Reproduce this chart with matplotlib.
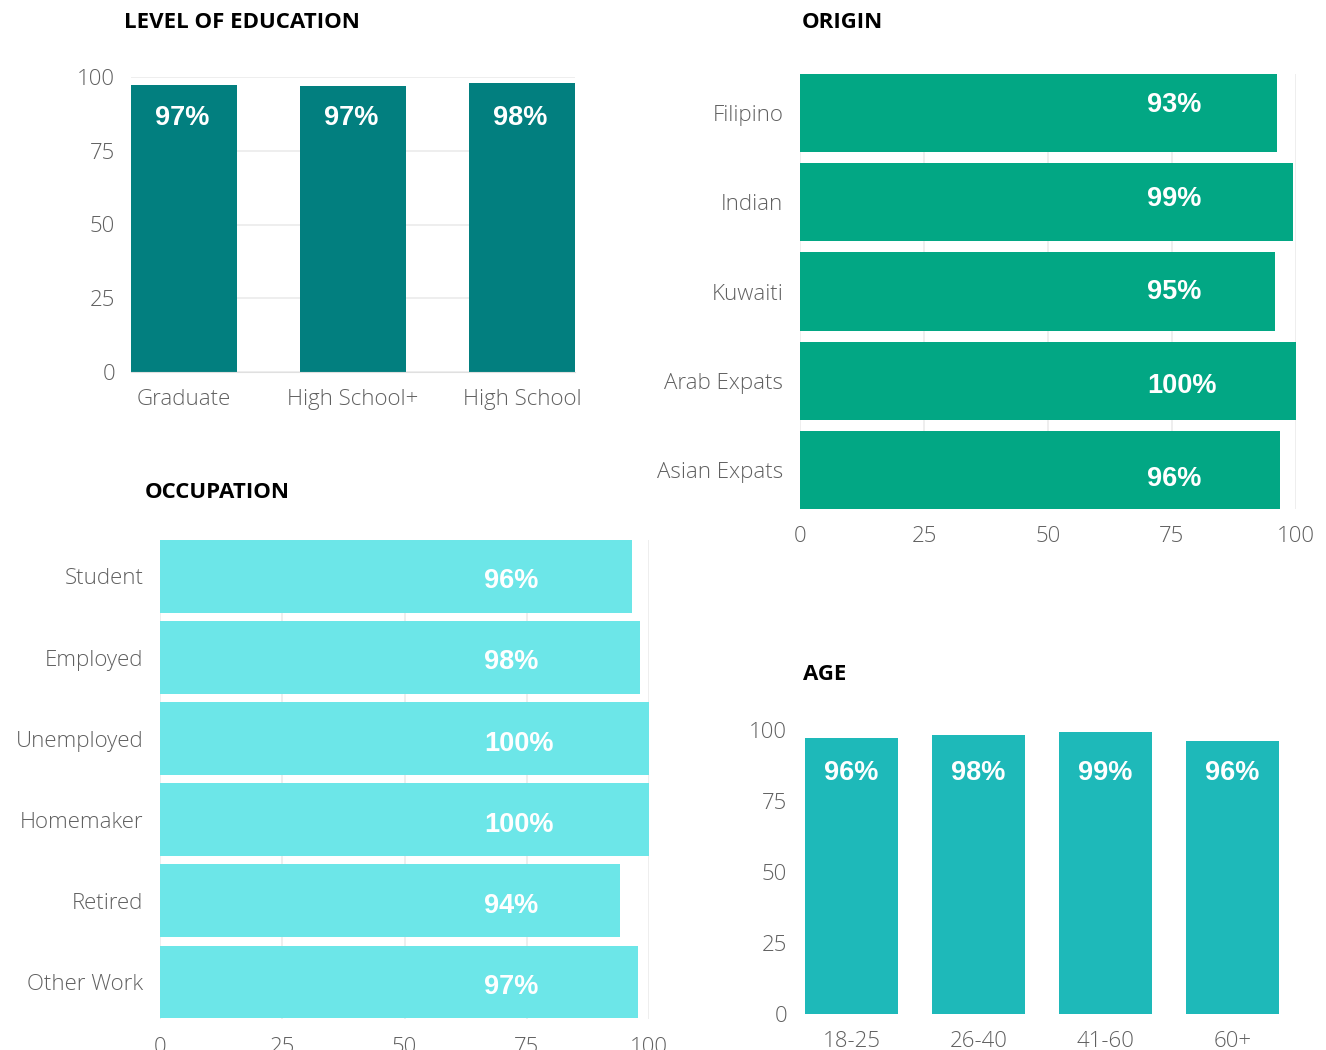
import matplotlib
matplotlib.use("Agg")
import matplotlib.pyplot as plt

# ---------------- data ----------------
edu_categories = ["Graduate", "High School+", "High School"]
edu_values = [97.3, 96.9, 98.0]
edu_labels = ["97%", "97%", "98%"]

origin_categories = ["Filipino", "Indian", "Kuwaiti", "Arab Expats", "Asian Expats"]
origin_values = [96.2, 99.4, 95.8, 100.0, 96.8]
origin_labels = ["93%", "99%", "95%", "100%", "96%"]

occ_categories = ["Student", "Employed", "Unemployed", "Homemaker", "Retired", "Other Work"]
occ_values = [96.5, 98.2, 100.0, 100.0, 94.1, 97.8]
occ_labels = ["96%", "98%", "100%", "100%", "94%", "97%"]

age_categories = ["18-25", "26-40", "41-60", "60+"]
age_values = [97.2, 98.2, 99.3, 96.1]
age_labels = ["96%", "98%", "99%", "96%"]

ticks = [0, 25, 50, 75, 100]

# ---------------- style ----------------
W, H = 1326, 1050
C_EDU = "#027F7F"
C_ORI = "#02A784"
C_OCC = "#6CE6E8"
C_AGE = "#1EB9B9"
GRID = "#EBEBEB"
TICK_C = "#606060"
TICK_FONT = dict(family="Open Sans", weight="light", size=16, color=TICK_C)
LABEL_FONT = dict(family="Liberation Sans", weight="bold", size=19.5, color="white")
TITLE_FONT = dict(family="Open Sans", weight="bold", size=16, color="black")

fig = plt.figure(figsize=(W / 100, H / 100), dpi=100)
fig.patch.set_facecolor("white")


def add_ax(left, right, top, bottom):
    return fig.add_axes([left / W, 1 - bottom / H, (right - left) / W, (bottom - top) / H])


def style(ax):
    for s in ax.spines.values():
        s.set_visible(False)
    ax.tick_params(length=0)
    for lab in ax.get_xticklabels() + ax.get_yticklabels():
        lab.set_fontfamily(TICK_FONT["family"])
        lab.set_fontweight(TICK_FONT["weight"])
        lab.set_fontsize(TICK_FONT["size"])
        lab.set_color(TICK_C)


def title(x, y, s):
    fig.text(x / W, 1 - y / H, s, ha="left", va="center", **TITLE_FONT)


# ---------- Level of education ----------
ax = add_ax(131, 575, 77, 372)
xs = range(len(edu_categories))
ax.bar(xs, edu_values, width=0.63, color=C_EDU, zorder=2)
ax.set_xlim(-0.315, 2.315)
ax.set_ylim(0, 100)
ax.set_yticks(ticks)
ax.set_xticks(list(xs))
ax.set_xticklabels(edu_categories)
ax.yaxis.grid(True, color=GRID, lw=1.2, zorder=0)
ax.set_axisbelow(True)
style(ax)
ax.spines["bottom"].set_visible(True)
ax.spines["bottom"].set_color("#E0E0E0")
ax.tick_params(axis="y", pad=11.5)
ax.tick_params(axis="x", pad=12)
for i, lab in enumerate(edu_labels):
    ax.text(i - 0.01, 86, lab, ha="center", va="center", zorder=3, **LABEL_FONT)
title(124, 22, "LEVEL OF EDUCATION")

# ---------- Origin ----------
ax = add_ax(800, 1296, 74, 509)
ys = range(len(origin_categories))
ax.barh(ys, origin_values, height=0.874, color=C_ORI, zorder=2)
ax.set_ylim(4.437, -0.437)
ax.set_xlim(0, 100)
ax.set_xticks(ticks)
ax.set_yticks(list(ys))
ax.set_yticklabels(origin_categories)
ax.xaxis.grid(True, color=GRID, lw=1.2, zorder=0)
ax.set_axisbelow(True)
style(ax)
ax.tick_params(axis="y", pad=12)
ax.tick_params(axis="x", pad=12)
for i, lab in enumerate(origin_labels):
    ax.text(70.0, -0.09 + i * 1.048, lab, ha="left", va="center", zorder=3, **LABEL_FONT)
title(802, 22, "ORIGIN")

# ---------- Occupation ----------
ax = add_ax(160, 649, 540, 1018.5)
ys = range(len(occ_categories))
ax.barh(ys, occ_values, height=0.9, color=C_OCC, zorder=2)
ax.set_ylim(5.45, -0.45)
ax.set_xlim(0, 100)
ax.set_xticks(ticks)
ax.set_yticks(list(ys))
ax.set_yticklabels(occ_categories)
ax.xaxis.grid(True, color=GRID, lw=1.2, zorder=0)
ax.set_axisbelow(True)
style(ax)
ax.tick_params(axis="y", pad=12)
ax.tick_params(axis="x", pad=13)
for i, lab in enumerate(occ_labels):
    ax.text(66.3, i + 0.06, lab, ha="left", va="center", zorder=3, **LABEL_FONT)
title(145, 493, "OCCUPATION")

# ---------- Age ----------
ax = add_ax(805, 1279, 730, 1014)
xs = range(len(age_categories))
ax.bar(xs, age_values, width=0.732, color=C_AGE, zorder=2)
ax.set_xlim(-0.366, 3.366)
ax.set_ylim(0, 100)
ax.set_yticks(ticks)
ax.set_xticks(list(xs))
ax.set_xticklabels(age_categories)
style(ax)
ax.tick_params(axis="y", pad=13)
ax.tick_params(axis="x", pad=12)
for i, lab in enumerate(age_labels):
    ax.text(i, 85, lab, ha="center", va="center", zorder=3, **LABEL_FONT)
title(803, 674, "AGE")

fig.savefig("out.png", dpi=100, facecolor="white")
